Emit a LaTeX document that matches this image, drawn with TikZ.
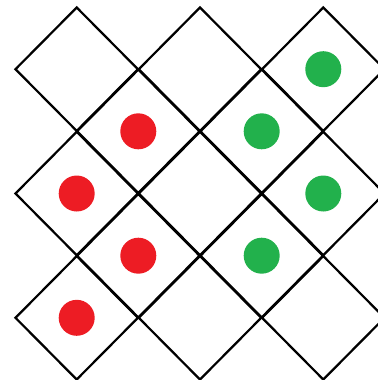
\documentclass[tikz,border=0pt]{standalone}
\usetikzlibrary{shapes.geometric}
\definecolor{cRed}{HTML}{ED1C24}
\definecolor{cGreen}{HTML}{22B14C}
\tikzset{
  cell/.style = {diamond, draw=black, line width=1.9pt, inner sep=0pt,
                 minimum width=3.70cm, minimum height=3.73cm},
  spot/.style = {circle, inner sep=0pt, minimum size=1.08cm},
}

\begin{document}
\begin{tikzpicture}[x=0.03cm, y=-0.03cm]
  \useasboundingbox (0,0) rectangle (378,380);
  \clip (0,0) rectangle (378,380);

  % diamond lattice, five rows
  \foreach \x/\y/\n in {76.7/69.2/d1a, 200/69.2/d1b, 323.3/69.2/d1c,
                        138.3/131.3/d2a, 261.7/131.3/d2b,
                        76.7/193.5/d3a, 200/193.5/d3b, 323.3/193.5/d3c,
                        138.3/255.7/d4a, 261.7/255.7/d4b,
                        76.7/317.8/d5a, 200/317.8/d5b, 323.3/317.8/d5c}
    \node[cell] (\n) at (\x,\y) {};

  % red and green counters
  \foreach \c/\n in {d2a/r1, d3a/r2, d4a/r3, d5a/r4}
    \node[spot, fill=cRed] (\n) at (\c) {};
  \foreach \c/\n in {d1c/g1, d2b/g2, d3c/g3, d4b/g4}
    \node[spot, fill=cGreen] (\n) at (\c) {};
\end{tikzpicture}
\end{document}
